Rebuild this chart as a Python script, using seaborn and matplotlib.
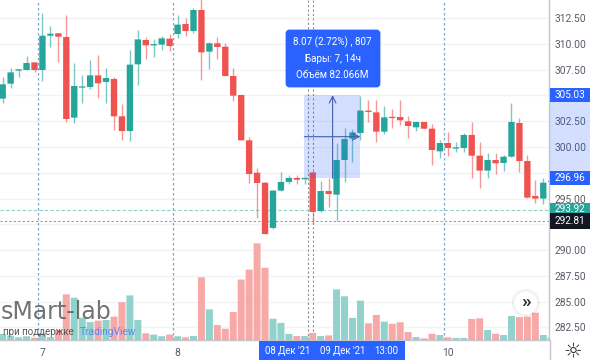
import matplotlib
matplotlib.use("Agg")
import matplotlib.pyplot as plt
from matplotlib.patches import Rectangle, FancyBboxPatch, Circle
import numpy as np
import pandas as pd
import seaborn as sns

# candles
opens = [304.69, 306.14, 307.41, 307.47, 308.21, 307.47, 310.80, 311.03, 310.67, 302.85,
         305.76, 305.82, 306.95, 306.31, 306.60, 302.98, 301.55, 308.02, 310.38, 309.86,
         309.93, 310.51, 310.96, 311.93, 311.25, 313.29, 309.25, 310.06, 309.73, 306.89,
         305.05, 300.65, 297.51, 296.54, 292.15, 295.77, 296.61, 297.00, 296.87, 297.54,
         293.79, 295.73, 295.38, 298.74, 300.81, 301.36, 303.53, 303.36, 301.49, 302.91,
         302.91, 302.49, 301.91, 302.43, 301.78, 299.58, 300.39, 299.84, 299.90, 301.17,
         299.16, 297.71, 298.74, 298.45, 299.06, 302.33, 298.64, 295.25, 294.99, 296.60]
highs = [306.76, 307.63, 307.57, 308.86, 308.21, 313.03, 311.74, 311.06, 312.81, 308.18,
         306.99, 308.44, 308.89, 307.63, 306.76, 304.17, 309.38, 311.35, 310.70, 310.44,
         310.77, 310.93, 312.81, 312.48, 313.45, 314.65, 310.22, 310.64, 310.12, 307.63,
         305.08, 300.94, 297.93, 296.64, 295.83, 297.61, 297.32, 297.25, 297.12, 297.54,
         296.70, 296.96, 300.42, 301.88, 301.72, 304.95, 304.56, 304.56, 303.98, 303.65,
         304.56, 303.04, 302.43, 302.43, 302.23, 300.65, 301.49, 300.49, 301.33, 302.39,
         300.49, 299.39, 299.45, 299.19, 304.30, 302.85, 299.23, 296.80, 296.96, 296.90]
lows = [304.24, 305.69, 306.82, 307.47, 307.28, 306.40, 309.70, 308.28, 302.39, 302.33,
        304.30, 305.66, 304.72, 304.24, 301.65, 300.65, 300.55, 306.05, 308.54, 308.76,
        309.41, 309.35, 310.54, 310.80, 311.09, 306.50, 307.57, 308.51, 306.89, 304.50,
        300.65, 296.54, 293.08, 291.56, 292.08, 295.70, 296.41, 296.41, 296.41, 292.53,
        293.73, 294.21, 292.86, 296.61, 298.58, 300.68, 302.46, 300.52, 301.26, 301.84,
        302.14, 300.84, 301.59, 301.72, 298.29, 298.90, 299.13, 299.52, 299.55, 297.03,
        296.06, 297.03, 297.35, 297.71, 299.06, 297.54, 295.09, 294.60, 294.44, 296.30]
closes = [306.08, 307.24, 307.54, 308.15, 307.47, 310.80, 310.99, 310.70, 302.72, 305.92,
          305.82, 306.95, 306.18, 306.69, 302.98, 301.55, 307.99, 310.44, 309.86, 309.99,
          310.54, 309.80, 311.87, 311.25, 313.29, 309.18, 310.06, 309.70, 306.89, 304.98,
          300.65, 297.38, 296.51, 291.56, 295.77, 296.61, 297.00, 296.83, 297.00, 293.70,
          295.73, 295.44, 298.74, 300.78, 301.42, 303.53, 303.40, 301.49, 302.88, 302.81,
          302.59, 302.04, 302.43, 301.78, 299.71, 300.39, 299.90, 299.97, 301.17, 299.16,
          297.71, 298.74, 298.42, 299.06, 302.43, 298.64, 295.09, 294.99, 296.54, 296.70]
volumes = [2.9, 2.1, 1.3, 1.8, 1.1, 3.2, 1.4, 4.8, 21.9, 20.3,
           10.7, 8.6, 9.3, 9.6, 11.2, 18.2, 21.4, 9.6, 3.2, 2.6,
           1.8, 2.6, 1.8, 1.3, 1.9, 30.1, 14.7, 7.2, 5.4, 13.4,
           29.0, 33.8, 46.4, 34.7, 10.2, 8.2, 2.9, 1.9, 1.9, 3.4,
           1.9, 2.2, 24.3, 21.0, 10.6, 18.9, 8.0, 12.0, 8.8, 7.8,
           8.5, 3.8, 1.4, 0.8, 3.0, 2.4, 1.3, 1.0, 1.0, 10.1,
           10.4, 4.8, 3.0, 2.4, 11.5, 11.0, 11.2, 13.1, 2.4, 1.3]

price_ticks = [312.5, 310.0, 307.5, 305.0, 302.5, 300.0, 297.5, 295.0, 292.5, 290.0, 287.5, 285.0, 282.5]
# these two sit behind the price tags
hidden_ticks = [297.5, 292.5]
day_labels = ["7", "8", "10"]
day_bars = [5, 22, 56]
day_lines = [4.48, 21.47, 55.47]
cross_lines = [38.46, 39.0]
range_low = 296.96
range_high = 305.03
last_price = 293.92
prev_close = 292.81
tooltip = ["8.07 (2.72%) , 807", "Бары: 7, 14ч", "Объём 82.066M"]
date_tags = ["08 Дек '21", "09 Дек '21", "13:00"]

GREEN = "#26a69a"
RED = "#ef5350"
BLUE = "#2962ff"

df = pd.DataFrame({"bar": np.arange(len(opens)), "open": opens, "high": highs, "low": lows,
                   "close": closes, "volume": volumes})
df["side"] = np.where(df["close"] >= df["open"], "up", "down")

sns.set_theme(style="white")
plt.rcParams["font.family"] = ["Roboto", "DejaVu Sans"]

fig = plt.figure(figsize=(5.9, 3.6), dpi=100, facecolor="white")
ax = fig.add_axes([0, 20 / 360, 549 / 590, 340 / 360])
ax_vol = ax.twinx()

sns.barplot(data=df, x="bar", y="volume", hue="side", palette={"up": "#92d2cc", "down": "#f7a9a8"},
            native_scale=True, dodge=False, width=0.88, saturation=1, linewidth=0, legend=False, ax=ax_vol)
for patch in ax_vol.patches:
    patch.set_snap(False)
ax_vol.set_ylim(0, 163.2)
ax_vol.axis("off")

for p in price_ticks:
    ax.axhline(p, color="#f2f3f5", lw=1, zorder=0)
for x in day_lines:
    ax.axvline(x, color="#7fa6cf", lw=0.9, ls=(0, (2, 2)), zorder=1)
for x in cross_lines:
    ax.axvline(x, color="#8a8f9c", lw=0.8, ls=(0, (2, 2)), zorder=1)
ax.axhline(last_price, color="#8fcfc9", lw=0.8, ls=(0, (3, 2)), zorder=1)
ax.axhline(prev_close, color="#9a9a9a", lw=0.8, ls=(0, (2, 2)), zorder=1)

colors = df["side"].map({"up": GREEN, "down": RED})
ax.vlines(df["bar"], df["low"], df["high"], colors=colors, lw=1, alpha=0.6, zorder=2)
bodies = ax.bar(df["bar"], (df["close"] - df["open"]).abs().clip(lower=0.12),
                bottom=df[["open", "close"]].min(axis=1), width=0.8, color=colors, lw=0, zorder=3)
for patch in bodies:
    patch.set_snap(False)

# measured range
ax.add_patch(Rectangle((37.94, range_low), 7.04, range_high - range_low, color=BLUE, alpha=0.2, lw=0, zorder=4))
ax.annotate("", xy=(41.5, range_high), xytext=(41.5, range_low), zorder=5,
            arrowprops=dict(arrowstyle="->", color="#3f5fb0", lw=0.8, shrinkA=0, shrinkB=0))
ax.annotate("", xy=(44.98, 301.0), xytext=(37.94, 301.0), zorder=5,
            arrowprops=dict(arrowstyle="->", color="#3f5fb0", lw=0.8, shrinkA=0, shrinkB=0))

ax.set_xlim(-0.34, 68.72)
ax.set_ylim(281.28, 314.26)
ax.yaxis.tick_right()
ax.set_yticks(price_ticks)
ax.set_yticklabels(["" if p in hidden_ticks else "%.2f" % p for p in price_ticks], color="#555a66", fontsize=7.4)
ax.set_xticks(day_bars)
ax.set_xticklabels(day_labels, color="#555a66", fontsize=7.4)
ax.tick_params(axis="both", length=0)
ax.tick_params(axis="y", pad=4)
ax.tick_params(axis="x", pad=6)
for side in ["top", "left"]:
    ax.spines[side].set_visible(False)
for side in ["right", "bottom"]:
    ax.spines[side].set_color("#c4c6cc")
    ax.spines[side].set_linewidth(1)

# chart chrome, placed in picture pixels
ui = fig.add_axes([0, 0, 1, 1], zorder=20)
ui.set_xlim(0, 590)
ui.set_ylim(360, 0)
ui.axis("off")
ui.patch.set_visible(False)

ui.add_patch(FancyBboxPatch((287, 31), 92, 55, boxstyle="round,pad=0,rounding_size=2.5", fc=BLUE, lw=2, ec=BLUE))
for y, line in zip([42, 58.5, 74.5], tooltip):
    ui.text(332.7, y, line, color="white", fontsize=7.1, ha="center", va="center")

ui.add_patch(Rectangle((550, 95), 40, 83, color=BLUE, alpha=0.2, lw=0))
ui.plot([549.5, 549.5], [340, 360], color="#c4c6cc", lw=1)
for y0, y1, fc, txt, ty in [(88, 102, BLUE, "%.2f" % range_high, 95), (171, 185, BLUE, "%.2f" % range_low, 178),
                            (202.5, 213, GREEN, "%.2f" % last_price, 209), (213, 229, "#131722", "%.2f" % prev_close, 221.5)]:
    ui.add_patch(Rectangle((550, y0), 40, y1 - y0, color=fc, lw=0))
    ui.text(569.5, ty, txt, color="white", fontsize=7.2, ha="center", va="center")

ui.add_patch(Rectangle((258.5, 340.5), 146.5, 19.5, color=BLUE, lw=0))
for x, txt in zip([287.5, 343, 386.5], date_tags):
    ui.text(x, 351, txt, color="white", fontsize=6.9, ha="center", va="center")

ui.text(1, 319, "sMart-lab", color="#5a5a5a", alpha=0.85, fontsize=17, family="DejaVu Sans", ha="left", va="baseline")
ui.text(3, 335, "при поддержке", color="#555555", fontsize=7, ha="left", va="baseline")
ui.text(80, 335, "TradingView", color="#5f86e8", fontsize=7.3, ha="left", va="baseline")

ui.add_patch(Circle((525.7, 303), 14, fc="#000000", alpha=0.05, lw=0))
ui.add_patch(Circle((525.7, 303), 11.5, fc="white", lw=0))
ui.text(525.7, 302, "»", color="#2a2e39", fontsize=14, fontweight="bold", ha="center", va="center")

ui.text(573, 351, "☼", color="#2a2e39", fontsize=15, family="DejaVu Sans", ha="center", va="center")

fig.savefig("out.png", dpi=100)
